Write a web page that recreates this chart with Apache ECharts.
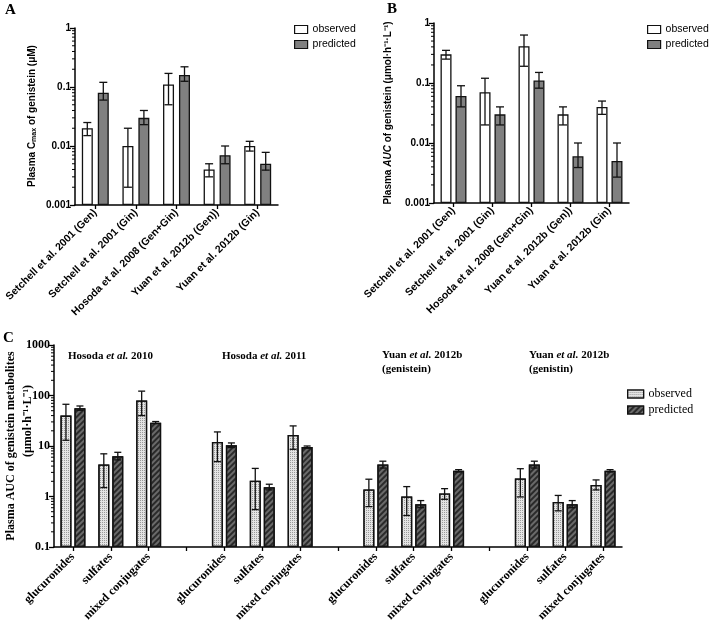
<!DOCTYPE html>
<html>
<head>
<meta charset="utf-8">
<script src="https://cdn.jsdelivr.net/npm/echarts@6/dist/echarts.min.js"></script>
<style>
  html, body { margin: 0; padding: 0; background: #fff; }
  #chart { width: 709px; height: 627px; }
</style>
</head>
<body>
<div id="chart"></div>
<script>
// ---- data ----
const studies = ['Setchell et al. 2001 (Gen)', 'Setchell et al. 2001 (Gin)', 'Hosoda et al. 2008 (Gen+Gin)', 'Yuan et al. 2012b (Gen))', 'Yuan et al. 2012b (Gin)'];

// panel A: Cmax (uM)
const cmaxObs = [0.02, 0.01, 0.11, 0.004, 0.01];
const cmaxObsErr = [[0.015, 0.025], [0.002, 0.02], [0.05, 0.17], [0.003, 0.005], [0.0082, 0.012]];
const cmaxPred = [0.08, 0.03, 0.16, 0.007, 0.005];
const cmaxPredErr = [[0.06, 0.12], [0.023, 0.04], [0.125, 0.22], [0.005, 0.01], [0.0039, 0.0078]];

// panel B: AUC (umol h-1 L-1)
const aucObs = [0.3, 0.07, 0.41, 0.03, 0.04];
const aucObsErr = [[0.25, 0.35], [0.02, 0.12], [0.19, 0.63], [0.02, 0.04], [0.03, 0.05]];
const aucPred = [0.061, 0.03, 0.11, 0.006, 0.005];
const aucPredErr = [[0.04, 0.09], [0.02, 0.04], [0.082, 0.15], [0.0039, 0.01], [0.0027, 0.01]];

// panel C: metabolites AUC, 4 studies x 3 conjugates
const conjugates = ['glucuronides', 'sulfates', 'mixed conjugates'];
const metaStudies = ['Hosoda et al. 2010', 'Hosoda et al. 2011', 'Yuan et al. 2012b (genistein)', 'Yuan et al. 2012b (genistin)'];
const metaObs = [40, 4.3, 80, 12, 2.05, 16.6, 1.38, 1.0, 1.15, 2.27, 0.78, 1.69];
const metaObsErr = [[13, 67], [1.5, 7.0], [40, 122], [4.9, 19], [0.55, 3.6], [8.6, 25], [0.63, 2.2], [0.42, 1.57], [0.88, 1.43], [0.98, 3.55], [0.52, 1.05], [1.35, 2.13]];
const metaPred = [56, 6.3, 29, 10.3, 1.52, 9.5, 4.3, 0.70, 3.24, 4.3, 0.70, 3.24];
const metaPredErr = [[51, 62], [5.3, 7.5], [27.7, 30.5], [9.3, 11.5], [1.35, 1.75], [9.1, 10], [3.66, 5.0], [0.6, 0.83], [3.05, 3.4], [3.66, 5.0], [0.6, 0.83], [3.05, 3.4]];

// ---- helpers ----
const SANS = 'Liberation Sans';
const SERIF = 'Liberation Serif';

// C axis: groups of 3 conjugates with an empty slot between them
const metaCats = [];
const metaIdx = [];
metaStudies.forEach((s, g) => {
  conjugates.forEach((c) => { metaIdx.push(metaCats.length); metaCats.push(c); });
  if (g < metaStudies.length - 1) metaCats.push('');
});
function spread(vals) {
  const out = metaCats.map(() => '-');
  vals.forEach((v, i) => { out[metaIdx[i]] = v; });
  return out;
}
function errData(err, idx) {
  return err.map((e, i) => [idx ? idx[i] : i, e[0], e[1]]);
}
// 2..9 x 10^d minor tick values of a log axis
function minorValues(fromExp, toExp) {
  const out = [];
  for (let d = fromExp; d < toExp; d++) {
    for (let k = 2; k <= 9; k++) out.push([0, parseFloat((k * Math.pow(10, d)).toPrecision(2))]);
  }
  return out;
}

function errSeries(name, data, xi, yi, offset, cap) {
  return {
    name: name, type: 'custom', xAxisIndex: xi, yAxisIndex: yi, z: 5,
    encode: { x: 0, y: [1, 2] },
    data: data,
    renderItem: function (params, api) {
      const lo = api.coord([api.value(0), api.value(1)]);
      const hi = api.coord([api.value(0), api.value(2)]);
      const x = lo[0] + offset;
      const st = { stroke: '#111', lineWidth: 1.3 };
      return {
        type: 'group',
        children: [
          { type: 'line', shape: { x1: x, y1: lo[1], x2: x, y2: hi[1] }, style: st },
          { type: 'line', shape: { x1: x - cap, y1: hi[1], x2: x + cap, y2: hi[1] }, style: st },
          { type: 'line', shape: { x1: x - cap, y1: lo[1], x2: x + cap, y2: lo[1] }, style: st }
        ]
      };
    }
  };
}

// short minor ticks on the left of a log axis
function minorTickSeries(xi, yi, fromExp, toExp) {
  return {
    type: 'custom', xAxisIndex: xi, yAxisIndex: yi, z: 6, silent: true, clip: false,
    encode: { x: 0, y: 1 },
    data: minorValues(fromExp, toExp),
    renderItem: function (params, api) {
      const p = api.coord([api.value(0), api.value(1)]);
      const x0 = params.coordSys.x;
      return { type: 'line', shape: { x1: x0 - 3, y1: p[1], x2: x0, y2: p[1] }, style: { stroke: '#000', lineWidth: 1 } };
    }
  };
}

function mainY(gi, min, max, font, size) {
  return {
    type: 'log', gridIndex: gi, min: min, max: max, startValue: min,
    axisLine: { show: true, lineStyle: { color: '#000', width: 1.5 } },
    axisTick: { show: true, length: 5, lineStyle: { color: '#000', width: 1.3 } },
    splitLine: { show: false },
    axisLabel: {
      color: '#000', fontFamily: font, fontWeight: 'bold', fontSize: size, margin: 4,
      formatter: v => String(parseFloat(v.toPrecision(2)))
    }
  };
}
function catX(gi, data, font, size, margin) {
  return {
    type: 'category', gridIndex: gi, data: data,
    axisLine: { show: true, lineStyle: { color: '#000', width: 1.5 } },
    axisTick: { show: true, alignWithLabel: true, interval: 0, length: 4, lineStyle: { color: '#000', width: 1.3 } },
    axisLabel: { interval: 0, rotate: 45, color: '#000', fontFamily: font, fontWeight: 'bold', fontSize: size, margin: margin }
  };
}

const barBorder = { borderColor: '#111', borderWidth: 1.3 };
const obsAB = Object.assign({ color: '#fff' }, barBorder);
const predAB = Object.assign({ color: '#808080' }, barBorder);
const obsC = Object.assign({
  color: '#e4e4e4',
  decal: { symbol: 'rect', symbolSize: 1, dashArrayX: [1, 1], dashArrayY: [1, 1], color: '#9a9a9a' }
}, barBorder);
const predC = Object.assign({
  color: '#6a6a6a',
  decal: { symbol: 'rect', symbolSize: 1, dashArrayX: [1, 0], dashArrayY: [2, 2], rotation: -Math.PI / 4, color: '#2a2a2a' }
}, barBorder);

function vTitle(x, y, rich, text) {
  return {
    type: 'text', x: x, y: y, rotation: Math.PI / 2,
    style: { text: text, rich: rich, align: 'center', verticalAlign: 'middle', fill: '#000' }
  };
}
const serifRich = {
  a: { fontFamily: SERIF, fontWeight: 'bold', fontSize: 11, lineHeight: 14, fill: '#000' },
  i: { fontFamily: SERIF, fontWeight: 'bold', fontStyle: 'italic', fontSize: 11, lineHeight: 14, fill: '#000' }
};

const chart = echarts.init(document.getElementById('chart'));

const option = {
  animation: false,
  backgroundColor: '#fff',
  grid: [
    { left: 75, top: 28, width: 203, height: 177 },
    { left: 434, top: 23, width: 195, height: 180 },
    { left: 54, top: 345, width: 568, height: 202 }
  ],
  xAxis: [
    catX(0, studies, SANS, 10.5, 6),
    catX(1, studies, SANS, 10.5, 6),
    catX(2, metaCats, SERIF, 12, 8)
  ],
  yAxis: [
    mainY(0, 0.001, 1, SANS, 10),
    mainY(1, 0.001, 1, SANS, 10),
    mainY(2, 0.1, 1000, SERIF, 12)
  ],
  legend: [
    {
      left: 289, top: 19, orient: 'vertical', itemGap: 4, itemWidth: 13, itemHeight: 8, icon: 'rect',
      data: ['observed', 'predicted'], selectedMode: false,
      itemStyle: { borderColor: '#111', borderWidth: 1.2 },
      textStyle: { fontFamily: SANS, fontSize: 10.5, color: '#000' }
    },
    {
      left: 642, top: 19, orient: 'vertical', itemGap: 4, itemWidth: 13, itemHeight: 8, icon: 'rect',
      data: ['observed', 'predicted'], selectedMode: false,
      itemStyle: { borderColor: '#111', borderWidth: 1.2 },
      textStyle: { fontFamily: SANS, fontSize: 10.5, color: '#000' }
    },
    {
      left: 622, top: 383, orient: 'vertical', itemGap: 4, itemWidth: 16, itemHeight: 8, icon: 'rect',
      data: ['observed (C)', 'predicted (C)'], selectedMode: false,
      itemStyle: { borderColor: '#111', borderWidth: 1.2 },
      formatter: n => n.replace(' (C)', ''),
      textStyle: { fontFamily: SERIF, fontSize: 12, color: '#000' }
    }
  ],
  series: [
    { name: 'observed', type: 'bar', xAxisIndex: 0, yAxisIndex: 0, barWidth: 11, barGap: '45%', itemStyle: obsAB, data: cmaxObs },
    { name: 'predicted', type: 'bar', xAxisIndex: 0, yAxisIndex: 0, barWidth: 11, barGap: '45%', itemStyle: predAB, data: cmaxPred },
    errSeries('errA1', errData(cmaxObsErr), 0, 0, -8, 4),
    errSeries('errA2', errData(cmaxPredErr), 0, 0, 8, 4),
    minorTickSeries(0, 0, -3, 0),

    { name: 'observed', type: 'bar', xAxisIndex: 1, yAxisIndex: 1, barWidth: 11, barGap: '36%', itemStyle: obsAB, data: aucObs },
    { name: 'predicted', type: 'bar', xAxisIndex: 1, yAxisIndex: 1, barWidth: 11, barGap: '36%', itemStyle: predAB, data: aucPred },
    errSeries('errB1', errData(aucObsErr), 1, 1, -7.5, 4),
    errSeries('errB2', errData(aucPredErr), 1, 1, 7.5, 4),
    minorTickSeries(1, 1, -3, 0),

    { name: 'observed (C)', type: 'bar', xAxisIndex: 2, yAxisIndex: 2, barWidth: 11, barGap: '27%', itemStyle: obsC, data: spread(metaObs) },
    { name: 'predicted (C)', type: 'bar', xAxisIndex: 2, yAxisIndex: 2, barWidth: 11, barGap: '27%', itemStyle: predC, data: spread(metaPred) },
    errSeries('errC1', errData(metaObsErr, metaIdx), 2, 2, -7, 3.5),
    errSeries('errC2', errData(metaPredErr, metaIdx), 2, 2, 7, 3.5),
    minorTickSeries(2, 2, -1, 3)
  ],
  graphic: [
    { type: 'text', left: 5, top: 3, style: { text: 'A', font: 'bold 15px "Liberation Serif"', fill: '#000' } },
    { type: 'text', left: 387, top: 2, style: { text: 'B', font: 'bold 15px "Liberation Serif"', fill: '#000' } },
    { type: 'text', left: 3, top: 331, style: { text: 'C', font: 'bold 15px "Liberation Serif"', fill: '#000' } },

    vTitle(32, 116, {
      a: { fontFamily: SANS, fontWeight: 'bold', fontSize: 10, fill: '#000' },
      s: { fontFamily: SANS, fontWeight: 'bold', fontSize: 7, fill: '#000', padding: [5, 0, 0, 0] }
    }, '{a|Plasma C}{s|max}{a| of genistein (μM)}'),
    vTitle(388, 113, {
      a: { fontFamily: SANS, fontWeight: 'bold', fontSize: 10, fill: '#000' },
      i: { fontFamily: SANS, fontWeight: 'bold', fontStyle: 'italic', fontSize: 10, fill: '#000' }
    }, '{a|Plasma }{i|AUC}{a| of genistein (μmol·h⁻¹·L⁻¹)}'),
    vTitle(11, 446, {
      a: { fontFamily: SERIF, fontWeight: 'bold', fontSize: 12, fill: '#000' }
    }, '{a|Plasma AUC of genistein metabolites}'),
    vTitle(28, 421, {
      a: { fontFamily: SERIF, fontWeight: 'bold', fontSize: 12, fill: '#000' }
    }, '{a|(μmol·h⁻¹·L⁻¹)}'),

    { type: 'text', left: 68, top: 351, style: { text: '{a|Hosoda }{i|et al.}{a| 2010}', rich: serifRich } },
    { type: 'text', left: 222, top: 351, style: { text: '{a|Hosoda }{i|et al.}{a| 2011}', rich: serifRich } },
    { type: 'text', left: 382, top: 350, style: { text: '{a|Yuan }{i|et al.}{a| 2012b}\n{a|(genistein)}', rich: serifRich } },
    { type: 'text', left: 529, top: 350, style: { text: '{a|Yuan }{i|et al.}{a| 2012b}\n{a|(genistin)}', rich: serifRich } }
  ]
};

chart.setOption(option);
</script>
</body>
</html>
